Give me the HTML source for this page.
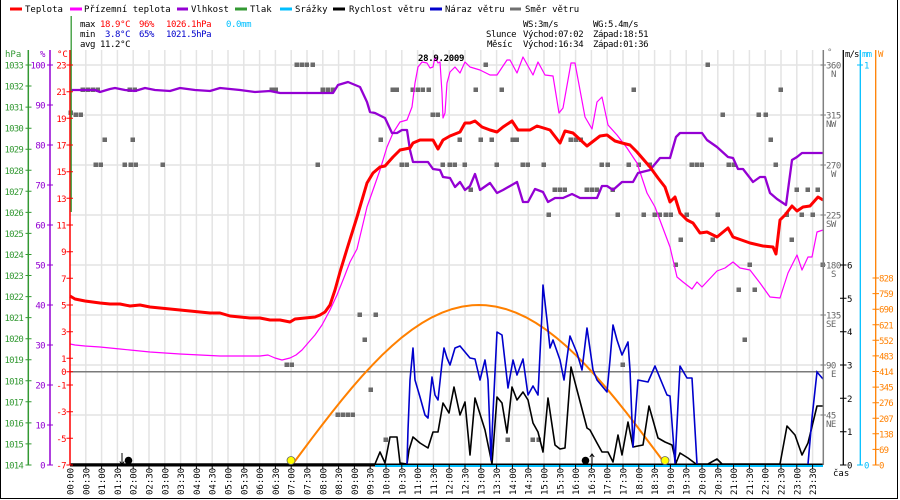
<!DOCTYPE html>
<html><head><meta charset="utf-8"><style>
html,body{margin:0;padding:0;background:#fff;}
svg{display:block;}
text{font-family:"DejaVu Sans Mono","Liberation Mono",monospace;font-size:9px;}
</style></head><body>
<svg width="900" height="500" viewBox="0 0 900 500" xmlns="http://www.w3.org/2000/svg">
<rect x="0" y="0" width="900" height="500" fill="#fff"/>
<!-- border -->
<path d="M0.5,0 V498.5 H897.5 V0" fill="none" stroke="#000" stroke-width="1"/>

<!-- legend -->
<g stroke-width="3">
<line x1="10" y1="9" x2="22" y2="9" stroke="#ff0000"/>
<line x1="70" y1="9" x2="82" y2="9" stroke="#ff00ff"/>
<line x1="177" y1="9" x2="188" y2="9" stroke="#9400d3"/>
<line x1="235" y1="9" x2="247" y2="9" stroke="#339933"/>
<line x1="280" y1="9" x2="292" y2="9" stroke="#00bfff"/>
<line x1="333" y1="9" x2="345" y2="9" stroke="#000"/>
<line x1="430" y1="9" x2="442" y2="9" stroke="#0000cc"/>
<line x1="510" y1="9" x2="521" y2="9" stroke="#707070"/>
</g>
<g fill="#000">
<text x="25" y="12">Teplota</text>
<text x="84" y="12">Přízemní teplota</text>
<text x="191" y="12">Vlhkost</text>
<text x="250" y="12">Tlak</text>
<text x="295" y="12">Srážky</text>
<text x="349" y="12">Rychlost větru</text>
<text x="445" y="12">Náraz větru</text>
<text x="525" y="12">Směr větru</text>
</g>

<!-- stats -->
<g letter-spacing="-0.4">
<text x="80" y="27">max</text>
<text x="100" y="27" fill="#ff0000">18.9°C</text>
<text x="139" y="27" fill="#ff0000">96%</text>
<text x="166" y="27" fill="#ff0000">1026.1hPa</text>
<text x="226" y="27" fill="#00bfff">0.0mm</text>
<text x="80" y="37">min</text>
<text x="105" y="37" fill="#0000cc">3.8°C</text>
<text x="139" y="37" fill="#0000cc">65%</text>
<text x="166" y="37" fill="#0000cc">1021.5hPa</text>
<text x="80" y="47">avg</text>
<text x="100" y="47">11.2°C</text>
<text x="523" y="27">WS:3m/s</text>
<text x="593" y="27">WG:5.4m/s</text>
<text x="486" y="37">Slunce</text>
<text x="523" y="37">Východ:07:02</text>
<text x="593" y="37">Západ:18:51</text>
<text x="487" y="47">Měsíc</text>
<text x="523" y="47">Východ:16:34</text>
<text x="593" y="47">Západ:01:36</text>
</g>

<!-- gridlines -->
<path d="M85.8,50V465M101.6,50V465M117.4,50V465M133.2,50V465M149,50V465M164.8,50V465M180.6,50V465M196.4,50V465M212.2,50V465M228,50V465M243.8,50V465M259.6,50V465M275.4,50V465M291.2,50V465M307,50V465M322.8,50V465M338.6,50V465M354.4,50V465M370.2,50V465M386,50V465M401.8,50V465M417.6,50V465M433.4,50V465M449.2,50V465M465,50V465M480.8,50V465M496.6,50V465M512.4,50V465M528.2,50V465M544,50V465M559.8,50V465M575.6,50V465M591.4,50V465M607.2,50V465M623,50V465M638.8,50V465M654.6,50V465M670.4,50V465M686.2,50V465M702,50V465M717.8,50V465M733.6,50V465M749.4,50V465M765.2,50V465M781,50V465M796.8,50V465M812.6,50V465" stroke="#e4e4e4" stroke-width="1.5" fill="none"/>
<path d="M70,65H823M70,115H823M70,165H823M70,215H823M70,265H823M70,315H823M70,365H823M70,415H823" stroke="#e4e4e4" stroke-width="1.5" fill="none"/>
<path d="M70,371.7H823" stroke="#7a7a7a" stroke-width="1.5"/>

<!-- wind direction squares -->
<g fill="#6a6a6a">
<rect x="294.5" y="62.5" width="4.5" height="4.5"/><rect x="299.5" y="62.5" width="4.5" height="4.5"/><rect x="304.5" y="62.5" width="4.5" height="4.5"/><rect x="310.5" y="62.5" width="4.5" height="4.5"/><rect x="483.5" y="62.5" width="4.5" height="4.5"/><rect x="705.5" y="62.5" width="4.5" height="4.5"/>
<rect x="80.5" y="87.5" width="4.5" height="4.5"/><rect x="85.5" y="87.5" width="4.5" height="4.5"/><rect x="90.5" y="87.5" width="4.5" height="4.5"/><rect x="95.5" y="87.5" width="4.5" height="4.5"/><rect x="127.5" y="87.5" width="4.5" height="4.5"/><rect x="132.5" y="87.5" width="4.5" height="4.5"/><rect x="269.5" y="87.5" width="4.5" height="4.5"/><rect x="273.5" y="87.5" width="4.5" height="4.5"/><rect x="320.5" y="87.5" width="4.5" height="4.5"/><rect x="325.5" y="87.5" width="4.5" height="4.5"/><rect x="330.5" y="87.5" width="4.5" height="4.5"/><rect x="390.5" y="87.5" width="4.5" height="4.5"/><rect x="394.5" y="87.5" width="4.5" height="4.5"/><rect x="410.5" y="87.5" width="4.5" height="4.5"/><rect x="415.5" y="87.5" width="4.5" height="4.5"/><rect x="420.5" y="87.5" width="4.5" height="4.5"/><rect x="426.5" y="87.5" width="4.5" height="4.5"/><rect x="473.5" y="87.5" width="4.5" height="4.5"/><rect x="499.5" y="87.5" width="4.5" height="4.5"/><rect x="631.5" y="87.5" width="4.5" height="4.5"/><rect x="778.5" y="87.5" width="4.5" height="4.5"/>
<rect x="68.5" y="110.5" width="4.5" height="4.5"/><rect x="73.5" y="112.5" width="4.5" height="4.5"/><rect x="78.5" y="112.5" width="4.5" height="4.5"/><rect x="430.5" y="112.5" width="4.5" height="4.5"/><rect x="435.5" y="112.5" width="4.5" height="4.5"/><rect x="720.5" y="112.5" width="4.5" height="4.5"/><rect x="756.5" y="112.5" width="4.5" height="4.5"/><rect x="763.5" y="112.5" width="4.5" height="4.5"/>
<rect x="102.5" y="137.5" width="4.5" height="4.5"/><rect x="130.5" y="137.5" width="4.5" height="4.5"/><rect x="378.5" y="137.5" width="4.5" height="4.5"/><rect x="457.5" y="137.5" width="4.5" height="4.5"/><rect x="478.5" y="137.5" width="4.5" height="4.5"/><rect x="489.5" y="137.5" width="4.5" height="4.5"/><rect x="510.5" y="137.5" width="4.5" height="4.5"/><rect x="514.5" y="137.5" width="4.5" height="4.5"/><rect x="568.5" y="137.5" width="4.5" height="4.5"/><rect x="573.5" y="137.5" width="4.5" height="4.5"/><rect x="578.5" y="137.5" width="4.5" height="4.5"/><rect x="768.5" y="137.5" width="4.5" height="4.5"/>
<rect x="93.5" y="162.5" width="4.5" height="4.5"/><rect x="98.5" y="162.5" width="4.5" height="4.5"/><rect x="122.5" y="162.5" width="4.5" height="4.5"/><rect x="128.5" y="162.5" width="4.5" height="4.5"/><rect x="133.5" y="162.5" width="4.5" height="4.5"/><rect x="160.5" y="162.5" width="4.5" height="4.5"/><rect x="315.5" y="162.5" width="4.5" height="4.5"/><rect x="399.5" y="162.5" width="4.5" height="4.5"/><rect x="404.5" y="162.5" width="4.5" height="4.5"/><rect x="440.5" y="162.5" width="4.5" height="4.5"/><rect x="447.5" y="162.5" width="4.5" height="4.5"/><rect x="452.5" y="162.5" width="4.5" height="4.5"/><rect x="462.5" y="162.5" width="4.5" height="4.5"/><rect x="494.5" y="162.5" width="4.5" height="4.5"/><rect x="520.5" y="162.5" width="4.5" height="4.5"/><rect x="525.5" y="162.5" width="4.5" height="4.5"/><rect x="541.5" y="162.5" width="4.5" height="4.5"/><rect x="599.5" y="162.5" width="4.5" height="4.5"/><rect x="605.5" y="162.5" width="4.5" height="4.5"/><rect x="626.5" y="162.5" width="4.5" height="4.5"/><rect x="636.5" y="162.5" width="4.5" height="4.5"/><rect x="647.5" y="162.5" width="4.5" height="4.5"/><rect x="689.5" y="162.5" width="4.5" height="4.5"/><rect x="694.5" y="162.5" width="4.5" height="4.5"/><rect x="699.5" y="162.5" width="4.5" height="4.5"/><rect x="726.5" y="162.5" width="4.5" height="4.5"/><rect x="731.5" y="162.5" width="4.5" height="4.5"/><rect x="773.5" y="162.5" width="4.5" height="4.5"/>
<rect x="468.5" y="187.5" width="4.5" height="4.5"/><rect x="552.5" y="187.5" width="4.5" height="4.5"/><rect x="557.5" y="187.5" width="4.5" height="4.5"/><rect x="562.5" y="187.5" width="4.5" height="4.5"/><rect x="584.5" y="187.5" width="4.5" height="4.5"/><rect x="589.5" y="187.5" width="4.5" height="4.5"/><rect x="594.5" y="187.5" width="4.5" height="4.5"/><rect x="610.5" y="187.5" width="4.5" height="4.5"/><rect x="794.5" y="187.5" width="4.5" height="4.5"/><rect x="805.5" y="187.5" width="4.5" height="4.5"/><rect x="815.5" y="187.5" width="4.5" height="4.5"/>
<rect x="546.5" y="212.5" width="4.5" height="4.5"/><rect x="615.5" y="212.5" width="4.5" height="4.5"/><rect x="641.5" y="212.5" width="4.5" height="4.5"/><rect x="652.5" y="212.5" width="4.5" height="4.5"/><rect x="657.5" y="212.5" width="4.5" height="4.5"/><rect x="663.5" y="212.5" width="4.5" height="4.5"/><rect x="668.5" y="212.5" width="4.5" height="4.5"/><rect x="684.5" y="212.5" width="4.5" height="4.5"/><rect x="715.5" y="212.5" width="4.5" height="4.5"/><rect x="784.5" y="212.5" width="4.5" height="4.5"/><rect x="799.5" y="212.5" width="4.5" height="4.5"/><rect x="810.5" y="212.5" width="4.5" height="4.5"/>
<rect x="678.5" y="237.5" width="4.5" height="4.5"/><rect x="710.5" y="237.5" width="4.5" height="4.5"/><rect x="789.5" y="237.5" width="4.5" height="4.5"/>
<rect x="673.5" y="262.5" width="4.5" height="4.5"/><rect x="747.5" y="262.5" width="4.5" height="4.5"/><rect x="820.5" y="262.5" width="4.5" height="4.5"/>
<rect x="736.5" y="287.5" width="4.5" height="4.5"/><rect x="752.5" y="287.5" width="4.5" height="4.5"/>
<rect x="357.5" y="312.5" width="4.5" height="4.5"/><rect x="373.5" y="312.5" width="4.5" height="4.5"/>
<rect x="362.5" y="337.5" width="4.5" height="4.5"/><rect x="742.5" y="337.5" width="4.5" height="4.5"/>
<rect x="284.5" y="362.5" width="4.5" height="4.5"/><rect x="289.5" y="362.5" width="4.5" height="4.5"/><rect x="620.5" y="362.5" width="4.5" height="4.5"/>
<rect x="368.5" y="387.5" width="4.5" height="4.5"/>
<rect x="335.5" y="412.5" width="4.5" height="4.5"/><rect x="340.5" y="412.5" width="4.5" height="4.5"/><rect x="345.5" y="412.5" width="4.5" height="4.5"/><rect x="350.5" y="412.5" width="4.5" height="4.5"/>
<rect x="383.5" y="437.5" width="4.5" height="4.5"/><rect x="505.5" y="437.5" width="4.5" height="4.5"/><rect x="530.5" y="437.5" width="4.5" height="4.5"/><rect x="536.5" y="437.5" width="4.5" height="4.5"/>
</g>

<!-- solar radiation -->
<polyline fill="none" stroke="#ff8000" stroke-width="2" points="292,465 302,451.6 312,438.2 322,425.1 332,412.2 342,399.8 352,387.7 362,376.2 372,365.4 382,355.2 392,345.9 402,337.3 412,329.7 422,323 432,317.3 442,312.7 452,309.1 462,306.6 472,305.3 479,305 486,305.3 496,306.6 506,309.1 516,312.7 526,317.3 536,323 546,329.7 556,337.4 566,345.9 576,355.3 586,365.4 596,376.3 606,387.7 616,399.7 626,412.1 636,425 646,438.4 656,451.6 666,465"/>

<!-- apparent temperature -->
<polyline fill="none" stroke="#ff00ff" stroke-width="1.2" stroke-linejoin="round" points="70,344 75,345 85,346 100,347 110,348 120,349 130,350 140,351 150,352 165,353 180,354 200,355 220,356 240,356 260,356 268,355 275,358 282,360 290,358 296,355 302,350 308,343 315,335 322,325 330,310 337,295 345,275 350,262 357,249 367,207 373,190 380,170 387,147 393,133 400,122 407,120 412,107 415,83 418,67 422,62 427,63 430,68 433,67 435,57 438,63 440,62 442,93 443,118 445,113 447,83 450,72 455,67 460,73 465,62 470,67 480,70 490,75 497,75 507,60 510,60 517,73 523,57 533,75 538,62 545,75 553,76 559,113 563,108 571,63 575,63 585,117 592,129 597,102 602,97 608,125 617,135 627,148 637,163 647,193 655,207 670,247 677,277 683,282 692,289 697,282 702,287 717,271 725,268 733,262 740,268 750,270 760,283 770,297 780,298 788,273 797,255 802,270 808,257 812,257 817,232 823,230"/>

<!-- humidity -->
<polyline fill="none" stroke="#9400d3" stroke-width="2.3" stroke-linejoin="round" points="70,90 95,90 100,92 110,89 115,88 125,90 135,91 145,88 155,90 170,91 180,88 195,90 210,91 220,88 240,90 255,92 270,91 280,93 333,93 338,85 348,82 360,87 367,102 370,112 375,113 385,118 392,133 397,133 402,130 407,130 410,150 413,162 428,162 433,169 440,170 443,177 450,178 455,187 460,182 465,190 470,186 475,174 480,190 490,183 497,193 503,190 517,182 523,202 528,202 535,189 543,192 548,202 555,198 563,198 572,194 580,198 597,198 602,186 607,186 613,190 622,182 633,182 638,173 650,170 660,158 670,158 676,137 680,133 702,133 707,140 717,147 728,157 733,158 738,169 743,169 750,178 753,182 760,177 765,177 770,193 777,199 786,205 788,190 792,160 797,157 802,153 823,153"/>

<!-- temperature -->
<polyline fill="none" stroke="#ff0000" stroke-width="3" stroke-linejoin="round" points="70,296 75,299 85,301 100,303 110,304 120,304 130,306 140,305 150,307 160,308 170,309 180,310 190,311 200,312 210,313 220,313 230,316 240,317 250,318 260,318 270,320 280,320 290,322 295,319 305,318 315,317 320,315 325,312 330,305 335,290 340,272 347,249 357,217 367,183 373,173 380,167 385,166 393,157 400,150 410,148 413,143 420,140 433,140 438,149 443,140 450,136 460,132 465,123 470,123 475,121 482,127 490,130 497,132 503,127 512,121 518,130 530,130 537,126 550,130 560,143 565,131 573,133 587,146 600,136 607,135 615,141 622,143 630,145 637,152 650,167 658,178 665,187 670,202 675,197 680,213 687,220 693,223 700,233 707,232 717,237 728,228 733,237 750,243 763,246 773,247 776,254 780,220 785,215 792,206 797,211 803,207 810,206 818,197 823,200"/>

<!-- bottom axis + precip -->
<path d="M70,465H823" stroke="#000" stroke-width="3"/>
<path d="M375,466H823" stroke="#00bfff" stroke-width="2"/>

<!-- wind speed -->
<polyline fill="none" stroke="#000" stroke-width="1.6" stroke-linejoin="round" points="70,464 375,464 380,452 385,463 390,437 397,437 400,463 407,464 409,450 413,437 420,443 428,448 433,432 438,432 443,403 449,413 454,387 460,415 465,402 470,455 475,398 485,430 492,464 497,397 502,403 507,433 512,387 517,400 523,392 528,400 533,423 538,432 543,452 548,398 555,445 560,449 565,448 571,367 577,390 587,428 590,430 597,443 602,452 608,452 613,462 618,435 622,455 628,422 633,447 643,445 649,406 658,438 665,442 672,445 676,463 680,453 688,458 696,464 708,464 717,459 722,464 780,464 787,426 795,435 802,455 808,443 817,406 823,406"/>

<!-- gust -->
<polyline fill="none" stroke="#0000cc" stroke-width="1.6" stroke-linejoin="round" points="407,464 408,430 410,380 413,348 415,380 420,397 425,415 428,418 432,377 435,395 438,400 442,363 444,348 447,358 450,365 455,348 460,346 470,358 475,359 480,380 485,360 488,380 491,460 493,413 497,332 502,335 508,388 513,360 517,375 523,359 528,395 533,386 538,395 542,313 543,285 547,320 550,348 553,340 560,360 564,380 570,336 577,353 582,370 587,328 593,370 597,380 607,392 610,360 613,325 617,340 622,355 628,342 630,370 633,447 638,380 648,382 655,366 662,383 667,395 670,396 675,463 680,366 687,378 692,378 697,464"/>
<polyline fill="none" stroke="#0000cc" stroke-width="1.6" points="808,464 812,418 817,372 823,379"/>

<!-- sun / moon markers -->
<circle cx="291" cy="460.5" r="4" fill="#ffff00" stroke="#666" stroke-width="0.8"/>
<circle cx="665" cy="460.5" r="4" fill="#ffff00" stroke="#666" stroke-width="0.8"/>
<circle cx="128.5" cy="460.5" r="3.8" fill="#000"/>
<path d="M122,453V465M119.8,461.5L122,464.5L124.2,461.5" stroke="#000" stroke-width="1" fill="none"/>
<circle cx="585.5" cy="460.5" r="3.8" fill="#000"/>
<path d="M592,466V454M589.8,457L592,454L594.2,457" stroke="#000" stroke-width="1" fill="none"/>

<!-- title -->
<text x="418" y="61" font-weight="bold" font-size="12" letter-spacing="-0.3">28.9.2009</text>

<!-- left axes -->
<path d="M28.3,50V465" stroke="#339933" stroke-width="1.5"/>
<path d="M50,50V465" stroke="#9400d3" stroke-width="1.5"/>
<path d="M70,50V465" stroke="#ff0000" stroke-width="1.5"/>
<path d="M71.2,16V212" stroke="#339933" stroke-width="1.3"/>
<text x="5" y="57" fill="#339933">hPa</text>
<text x="40" y="57" fill="#9400d3">%</text>
<text x="57" y="57" fill="#ff0000">°C</text>

<path d="M25.5,65H31.5M25.5,86.05H31.5M25.5,107.1H31.5M25.5,128.2H31.5M25.5,149.2H31.5M25.5,170.3H31.5M25.5,191.3H31.5M25.5,212.4H31.5M25.5,233.4H31.5M25.5,254.5H31.5M25.5,275.5H31.5M25.5,296.6H31.5M25.5,317.6H31.5M25.5,338.7H31.5M25.5,359.7H31.5M25.5,380.8H31.5M25.5,401.8H31.5M25.5,422.9H31.5M25.5,443.9H31.5M25.5,465H31.5" stroke="#339933" stroke-width="1"/>
<g fill="#339933" text-anchor="end" letter-spacing="-0.8">
<text x="23" y="68.5">1033</text><text x="23" y="89.5">1032</text><text x="23" y="110.6">1031</text><text x="23" y="131.7">1030</text><text x="23" y="152.7">1029</text><text x="23" y="173.8">1028</text><text x="23" y="194.8">1027</text><text x="23" y="215.9">1026</text><text x="23" y="236.9">1025</text><text x="23" y="258">1024</text><text x="23" y="279">1023</text><text x="23" y="300.1">1022</text><text x="23" y="321.1">1021</text><text x="23" y="342.2">1020</text><text x="23" y="363.2">1019</text><text x="23" y="384.3">1018</text><text x="23" y="405.3">1017</text><text x="23" y="426.4">1016</text><text x="23" y="447.4">1015</text><text x="23" y="468.5">1014</text>
</g>
<path d="M47,65H53M47,105H53M47,145H53M47,185H53M47,225H53M47,265H53M47,305H53M47,345H53M47,385H53M47,425H53M47,465H53" stroke="#9400d3" stroke-width="1"/>
<g fill="#9400d3" text-anchor="end" letter-spacing="-0.6">
<text x="45" y="68.5">100</text><text x="45" y="108.5">90</text><text x="45" y="148.5">80</text><text x="45" y="188.5">70</text><text x="45" y="228.5">60</text><text x="45" y="268.5">50</text><text x="45" y="308.5">40</text><text x="45" y="348.5">30</text><text x="45" y="388.5">20</text><text x="45" y="428.5">10</text><text x="45" y="468.5">0</text>
</g>
<path d="M66.5,65H73M66.5,91.7H73M66.5,118.3H73M66.5,145H73M66.5,171.7H73M66.5,198.3H73M66.5,225H73M66.5,251.7H73M66.5,278.3H73M66.5,305H73M66.5,331.7H73M66.5,358.3H73M66.5,371.7H73M66.5,385H73M66.5,411.7H73M66.5,438.3H73M66.5,465H73" stroke="#ff0000" stroke-width="1"/>
<g fill="#ff0000" text-anchor="end" letter-spacing="-0.6">
<text x="66" y="68.5">23</text><text x="66" y="95.2">21</text><text x="66" y="121.8">19</text><text x="66" y="148.5">17</text><text x="66" y="175.2">15</text><text x="66" y="201.8">13</text><text x="66" y="228.5">11</text><text x="66" y="255.2">9</text><text x="66" y="281.8">7</text><text x="66" y="308.5">5</text><text x="66" y="335.2">3</text><text x="66" y="361.8">1</text><text x="66" y="375.2">0</text><text x="66" y="388.5">-1</text><text x="66" y="415.2">-3</text><text x="66" y="441.8">-5</text><text x="66" y="468.5">-7</text>
</g>

<!-- right axes -->
<path d="M823.3,50V465" stroke="#808080" stroke-width="1.5"/>
<path d="M843.3,50V465" stroke="#000" stroke-width="1.3"/>
<path d="M860.3,50V465" stroke="#00bfff" stroke-width="1.3"/>
<path d="M875.7,50V465" stroke="#ff8000" stroke-width="1.3"/>
<text x="827" y="55" fill="#808080">°</text>
<text x="845" y="57" letter-spacing="-0.9">m/s</text>
<text x="862" y="57" fill="#00bfff" letter-spacing="-0.8">mm</text>
<text x="878" y="57" fill="#ff8000">W</text>

<path d="M820.5,65H826M820.5,115H826M820.5,165H826M820.5,215H826M820.5,265H826M820.5,315H826M820.5,365H826M820.5,415H826" stroke="#808080" stroke-width="1"/>
<g fill="#666" letter-spacing="-0.5">
<text x="826" y="68.5">360</text><text x="831" y="77">N</text>
<text x="826" y="118.5">315</text><text x="826" y="127">NW</text>
<text x="826" y="168.5">270</text><text x="831" y="177">W</text>
<text x="826" y="218.5">225</text><text x="826" y="227">SW</text>
<text x="826" y="268.5">180</text><text x="831" y="277">S</text>
<text x="826" y="318.5">135</text><text x="826" y="327">SE</text>
<text x="826" y="368.5">90</text><text x="831" y="377">E</text>
<text x="826" y="418.5">45</text><text x="826" y="427">NE</text>
</g>
<path d="M840,465H846.5M840,431.7H846.5M840,398.3H846.5M840,365H846.5M840,331.7H846.5M840,298.3H846.5M840,265H846.5" stroke="#000" stroke-width="1"/>
<g fill="#000">
<text x="847" y="468.5">0</text><text x="847" y="435.2">1</text><text x="847" y="401.8">2</text><text x="847" y="368.5">3</text><text x="847" y="335.2">4</text><text x="847" y="301.8">5</text><text x="847" y="268.5">6</text>
</g>
<path d="M857,65H863M857,465H863" stroke="#00bfff" stroke-width="1"/>
<text x="864" y="68.5" fill="#00bfff">1</text>
<text x="864" y="468.5" fill="#00bfff">0</text>
<path d="M872.5,465H879M872.5,449.4H879M872.5,433.8H879M872.5,418.3H879M872.5,402.7H879M872.5,387.1H879M872.5,371.5H879M872.5,355.9H879M872.5,340.3H879M872.5,324.8H879M872.5,309.2H879M872.5,293.6H879M872.5,278H879" stroke="#ff8000" stroke-width="1"/>
<g fill="#ff8000" letter-spacing="-0.8">
<text x="879" y="468.5">0</text><text x="879" y="452.9">69</text><text x="879" y="437.3">138</text><text x="879" y="421.8">207</text><text x="879" y="406.2">276</text><text x="879" y="390.6">345</text><text x="879" y="375">414</text><text x="879" y="359.4">483</text><text x="879" y="343.8">552</text><text x="879" y="328.3">621</text><text x="879" y="312.7">690</text><text x="879" y="297.1">759</text><text x="879" y="281.5">828</text>
</g>
<text x="833" y="476">čas</text>

<!-- time ticks -->
<path d="M85.8,465V469M101.6,465V469M117.4,465V469M133.2,465V469M149,465V469M164.8,465V469M180.6,465V469M196.4,465V469M212.2,465V469M228,465V469M243.8,465V469M259.6,465V469M275.4,465V469M291.2,465V469M307,465V469M322.8,465V469M338.6,465V469M354.4,465V469M370.2,465V469M386,465V469M401.8,465V469M417.6,465V469M433.4,465V469M449.2,465V469M465,465V469M480.8,465V469M496.6,465V469M512.4,465V469M528.2,465V469M544,465V469M559.8,465V469M575.6,465V469M591.4,465V469M607.2,465V469M623,465V469M638.8,465V469M654.6,465V469M670.4,465V469M686.2,465V469M702,465V469M717.8,465V469M733.6,465V469M749.4,465V469M765.2,465V469M781,465V469M796.8,465V469M812.6,465V469" stroke="#000" stroke-width="1"/>

<!-- time labels -->
<g fill="#000">
<text transform="translate(73.5,495) rotate(-90)">00:00</text>
<text transform="translate(89.3,495) rotate(-90)">00:30</text>
<text transform="translate(105.1,495) rotate(-90)">01:00</text>
<text transform="translate(120.9,495) rotate(-90)">01:30</text>
<text transform="translate(136.7,495) rotate(-90)">02:00</text>
<text transform="translate(152.5,495) rotate(-90)">02:30</text>
<text transform="translate(168.3,495) rotate(-90)">03:00</text>
<text transform="translate(184.1,495) rotate(-90)">03:30</text>
<text transform="translate(199.9,495) rotate(-90)">04:00</text>
<text transform="translate(215.7,495) rotate(-90)">04:30</text>
<text transform="translate(231.5,495) rotate(-90)">05:00</text>
<text transform="translate(247.3,495) rotate(-90)">05:30</text>
<text transform="translate(263.1,495) rotate(-90)">06:00</text>
<text transform="translate(278.9,495) rotate(-90)">06:30</text>
<text transform="translate(294.7,495) rotate(-90)">07:00</text>
<text transform="translate(310.5,495) rotate(-90)">07:30</text>
<text transform="translate(326.3,495) rotate(-90)">08:00</text>
<text transform="translate(342.1,495) rotate(-90)">08:30</text>
<text transform="translate(357.9,495) rotate(-90)">09:00</text>
<text transform="translate(373.7,495) rotate(-90)">09:30</text>
<text transform="translate(389.5,495) rotate(-90)">10:00</text>
<text transform="translate(405.3,495) rotate(-90)">10:30</text>
<text transform="translate(421.1,495) rotate(-90)">11:00</text>
<text transform="translate(436.9,495) rotate(-90)">11:30</text>
<text transform="translate(452.7,495) rotate(-90)">12:00</text>
<text transform="translate(468.5,495) rotate(-90)">12:30</text>
<text transform="translate(484.3,495) rotate(-90)">13:00</text>
<text transform="translate(500.1,495) rotate(-90)">13:30</text>
<text transform="translate(515.9,495) rotate(-90)">14:00</text>
<text transform="translate(531.7,495) rotate(-90)">14:30</text>
<text transform="translate(547.5,495) rotate(-90)">15:00</text>
<text transform="translate(563.3,495) rotate(-90)">15:30</text>
<text transform="translate(579.1,495) rotate(-90)">16:00</text>
<text transform="translate(594.9,495) rotate(-90)">16:30</text>
<text transform="translate(610.7,495) rotate(-90)">17:00</text>
<text transform="translate(626.5,495) rotate(-90)">17:30</text>
<text transform="translate(642.3,495) rotate(-90)">18:00</text>
<text transform="translate(658.1,495) rotate(-90)">18:30</text>
<text transform="translate(673.9,495) rotate(-90)">19:00</text>
<text transform="translate(689.7,495) rotate(-90)">19:30</text>
<text transform="translate(705.5,495) rotate(-90)">20:00</text>
<text transform="translate(721.3,495) rotate(-90)">20:30</text>
<text transform="translate(737.1,495) rotate(-90)">21:00</text>
<text transform="translate(752.9,495) rotate(-90)">21:30</text>
<text transform="translate(768.7,495) rotate(-90)">22:00</text>
<text transform="translate(784.5,495) rotate(-90)">22:30</text>
<text transform="translate(800.3,495) rotate(-90)">23:00</text>
<text transform="translate(816.1,495) rotate(-90)">23:30</text>
</g>
</svg>
</body></html>
